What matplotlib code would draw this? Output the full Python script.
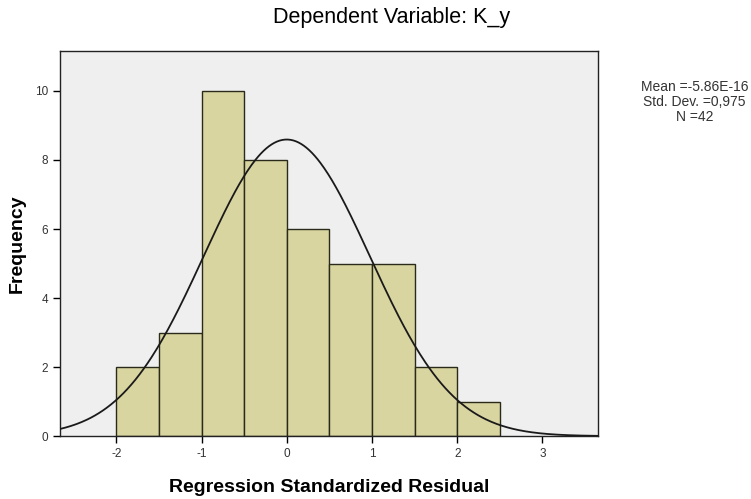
import numpy as np
import matplotlib
matplotlib.use('Agg')
import matplotlib.pyplot as plt

# histogram of residuals
bin_edges = [-2.0, -1.5, -1.0, -0.5, 0.0, 0.5, 1.0, 1.5, 2.0, 2.5]
counts = [2, 3, 10, 8, 6, 5, 5, 2, 1]
x_ticks = [-2, -1, 0, 1, 2, 3]
y_ticks = [0, 2, 4, 6, 8, 10]

# summary stats shown at right
mean_val = -5.86e-16
std_val = 0.975
n_val = 42
stats_lines = ["Mean =-5.86E-16", "Std. Dev. =0,975", "N =42"]

plt.rcParams['font.family'] = ['Liberation Sans', 'DejaVu Sans']
plt.rcParams['axes.unicode_minus'] = False

fig = plt.figure(figsize=(7.51, 4.99), dpi=100)
ax = fig.add_axes([0.080, 0.126, 0.716, 0.772])
ax.set_facecolor('#efefef')

widths = np.diff(bin_edges)
ax.bar(bin_edges[:-1], counts, width=widths, align='edge',
       color='#d8d5a0', edgecolor='#2a2a1a', linewidth=1.0, zorder=2)

# fitted normal curve scaled to the histogram
bw = widths[0]
xs = np.linspace(-2.66, 3.65, 400)
ys = n_val * bw / (std_val * np.sqrt(2 * np.pi)) * np.exp(-0.5 * ((xs - mean_val) / std_val) ** 2)
ax.plot(xs, ys, color='#1a1a1a', linewidth=1.3, zorder=3)

ax.set_xlim(-2.66, 3.65)
ax.set_ylim(0, 11.16)
ax.set_xticks(x_ticks)
ax.set_yticks(y_ticks)
ax.tick_params(direction='out', length=5, width=1, labelsize=8.5,
               labelcolor='#333333', top=False, right=False)
for sp in ax.spines.values():
    sp.set_color('#222222')
    sp.set_linewidth(1.0)

ax.set_xlabel("Regression Standardized Residual", fontsize=14, fontweight='bold', labelpad=14)
ax.set_ylabel("Frequency", fontsize=14, fontweight='bold', labelpad=7)
fig.text(0.521, 0.965, "Dependent Variable: K_y", ha='center', va='center', fontsize=15.5)

fig.text(0.925, 0.796, "\n".join(stats_lines), ha='center', va='center',
         fontsize=10, color='#333333', linespacing=1.1)

fig.savefig("out.png", dpi=100)
plt.close(fig)
